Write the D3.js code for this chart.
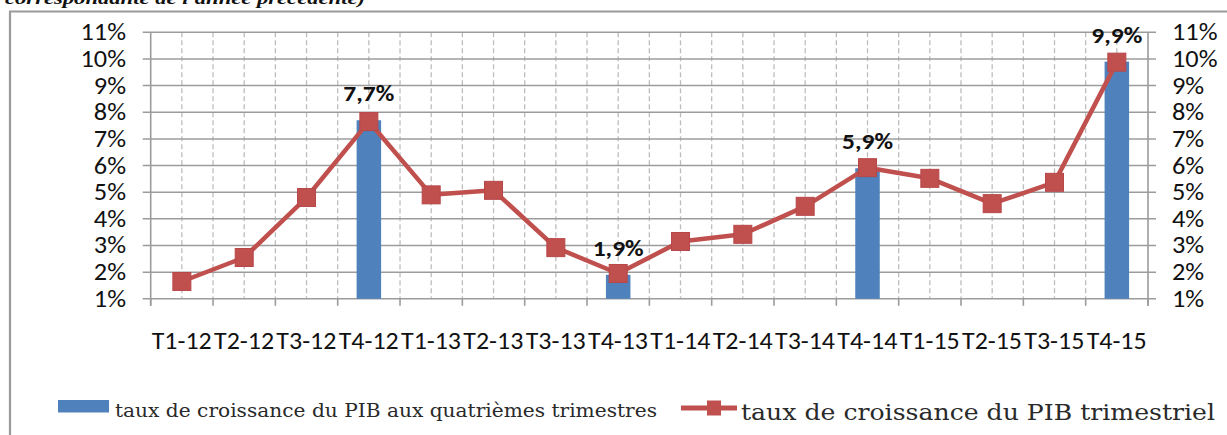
<!DOCTYPE html>
<html><head><meta charset="utf-8">
<script src="https://cdn.jsdelivr.net/npm/d3@7"></script>
<style>
html,body{margin:0;padding:0;background:#fff;overflow:hidden}
.sans{font-family:"Carlito","Lato","Open Sans",sans-serif}
.serif{font-family:"DejaVu Serif","Liberation Serif",serif}
.lserif{font-family:"Liberation Serif","DejaVu Serif",serif}
</style>
</head><body>
<svg id="c" width="1227" height="435"></svg>
<script>
const categories = ["T1-12","T2-12","T3-12","T4-12","T1-13","T2-13","T3-13","T4-13","T1-14","T2-14","T3-14","T4-14","T1-15","T2-15","T3-15","T4-15"];
const lineValues = [1.65, 2.55, 4.8, 7.65, 4.9, 5.07, 2.92, 1.95, 3.15, 3.42, 4.47, 5.92, 5.52, 4.57, 5.37, 9.88];
const barValues  = [null, null, null, 7.7, null, null, null, 1.9, null, null, null, 5.9, null, null, null, 9.9];
const barLabels  = [null, null, null, "7,7%", null, null, null, "1,9%", null, null, null, "5,9%", null, null, null, "9,9%"];
const yTicks = [1,2,3,4,5,6,7,8,9,10,11];
const legendBar = "taux de croissance du PIB aux quatrièmes trimestres";
const legendLine = "taux de croissance du PIB trimestriel";
const topText = "correspondante de l'année précédente)";

(function () {
const svg = d3.select("#c");
const pL = 150.7, pR = 1148, pT = 32.3, pB = 298.8;
const x = d3.scaleBand().domain(categories).range([pL, pR]).padding(0);
const y = d3.scaleLinear().domain([1, 11]).range([pB, pT]);
const bw = x.bandwidth();
const stretch = function (sel, k) {
  sel.each(function () {
    const w = this.getComputedTextLength();
    this.setAttribute("textLength", (w * k).toFixed(1));
    this.setAttribute("lengthAdjust", "spacingAndGlyphs");
  });
};

// top cut text
svg.append("text").attr("class", "lserif").attr("x", 5).attr("y", 3.5).text(topText)
  .attr("font-weight", "bold").attr("font-style", "italic")
  .attr("font-size", 17).attr("textLength", 360).attr("lengthAdjust", "spacingAndGlyphs").attr("fill", "#111");

// frame
svg.append("path").attr("d", "M10,436 L10,11.5 L1230,11.5").attr("fill", "none")
  .attr("stroke", "#9a9a9a").attr("stroke-width", 2.2);

// dashed vertical gridlines at every half band
const halfPos = [];
categories.forEach((c, i) => {
  halfPos.push(x(c) + bw / 2);
  if (i > 0) halfPos.push(x(c));
});
svg.append("g").selectAll("line").data(halfPos).join("line")
  .attr("x1", d => d).attr("x2", d => d).attr("y1", pT).attr("y2", pB)
  .attr("stroke", "#bdbdbd").attr("stroke-width", 1.3).attr("stroke-dasharray", "5,3");

// horizontal gridlines + tick marks
svg.append("g").selectAll("line").data(yTicks).join("line")
  .attr("x1", pL - 8).attr("x2", pR + 8).attr("y1", d => y(d)).attr("y2", d => y(d))
  .attr("stroke", "#9c9c9c").attr("stroke-width", 1.5);

// vertical axes
[pL, pR].forEach(px => {
  svg.append("line").attr("x1", px).attr("x2", px).attr("y1", pT).attr("y2", pB + 7)
    .attr("stroke", "#9c9c9c").attr("stroke-width", 1.6);
});
// category boundary ticks
const bounds = categories.map(c => x(c)).concat([pR]);
svg.append("g").selectAll("line").data(bounds).join("line")
  .attr("x1", d => d).attr("x2", d => d).attr("y1", pB).attr("y2", pB + 7)
  .attr("stroke", "#9c9c9c").attr("stroke-width", 1.6);

// y tick labels
const tf = d => d + "%";
svg.append("g").selectAll("text").data(yTicks).join("text").attr("class", "sans")
  .attr("x", 126).attr("y", d => y(d)).attr("dy", "0.34em").attr("text-anchor", "end")
  .attr("font-size", 23.5).attr("fill", "#111").text(tf).call(stretch, 1.12);
svg.append("g").selectAll("text").data(yTicks).join("text").attr("class", "sans")
  .attr("x", 1172).attr("y", d => y(d)).attr("dy", "0.34em").attr("text-anchor", "start")
  .attr("font-size", 23.5).attr("fill", "#111").text(tf).call(stretch, 1.12);

// category labels
svg.append("g").selectAll("text").data(categories).join("text").attr("class", "sans")
  .attr("x", d => x(d) + 1).attr("y", 348.5).attr("font-size", 23.5)
  .attr("fill", "#111").attr("textLength", 60).attr("lengthAdjust", "spacingAndGlyphs").text(d => d);

// bars
const barData = categories.map((c, i) => ({c, v: barValues[i], l: barLabels[i]})).filter(d => d.v != null);
const barW = 24.5;
svg.append("g").selectAll("rect").data(barData).join("rect")
  .attr("x", d => x(d.c) + bw / 2 - barW / 2).attr("width", barW)
  .attr("y", d => y(d.v)).attr("height", d => y(1) - y(d.v)).attr("fill", "#4F81BD");

// line
const pts = categories.map((c, i) => ({c, v: lineValues[i]}));
svg.append("path").datum(pts)
  .attr("d", d3.line().x(d => x(d.c) + bw / 2).y(d => y(d.v)))
  .attr("fill", "none").attr("stroke", "#C0504D").attr("stroke-width", 4.5).attr("stroke-linejoin", "round");
const ms = 18;
svg.append("g").selectAll("rect").data(pts).join("rect")
  .attr("x", d => x(d.c) + bw / 2 - ms / 2).attr("y", d => y(d.v) - ms / 2)
  .attr("width", ms).attr("height", ms).attr("fill", "#C0504D").attr("stroke", "#B8474A").attr("stroke-width", 1);

// data labels
svg.append("g").selectAll("text").data(barData).join("text").attr("class", "sans")
  .attr("x", d => x(d.c) + bw / 2).attr("y", d => y(d.v) - 19).attr("text-anchor", "middle")
  .attr("font-weight", "bold").attr("font-size", 23).attr("fill", "#111")
  .attr("textLength", 51).attr("lengthAdjust", "spacingAndGlyphs").text(d => d.l);

// legend
svg.append("rect").attr("x", 58).attr("y", 400).attr("width", 51).attr("height", 12.5).attr("fill", "#4F81BD");
svg.append("text").attr("class", "serif").attr("x", 115).attr("y", 416.5).text(legendBar)
  .attr("font-size", 18).attr("fill", "#2a2a2a")
  .attr("textLength", 542).attr("lengthAdjust", "spacingAndGlyphs");
svg.append("line").attr("x1", 681).attr("x2", 737).attr("y1", 408).attr("y2", 408)
  .attr("stroke", "#C0504D").attr("stroke-width", 5);
svg.append("rect").attr("x", 707).attr("y", 400.5).attr("width", 14).attr("height", 15).attr("fill", "#C0504D");
svg.append("text").attr("class", "serif").attr("x", 741).attr("y", 420).text(legendLine)
  .attr("font-size", 23).attr("fill", "#2a2a2a")
  .attr("textLength", 474).attr("lengthAdjust", "spacingAndGlyphs");
})();
</script>
</body></html>
